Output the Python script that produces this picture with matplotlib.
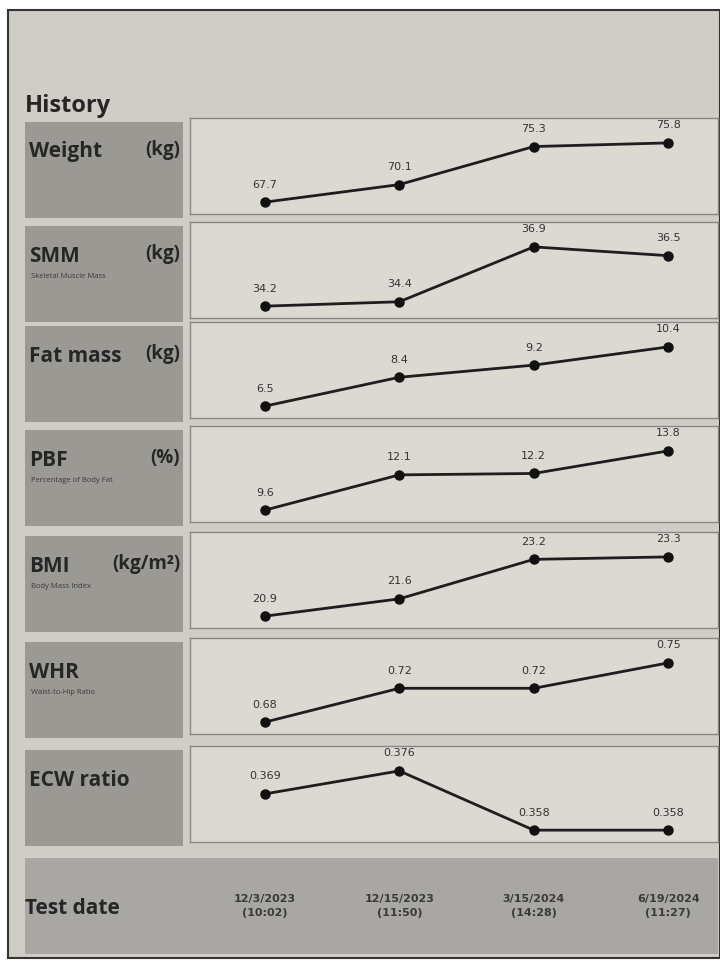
import matplotlib.pyplot as plt
from matplotlib.patches import Rectangle

# history values
dates = ["12/3/2023\n(10:02)", "12/15/2023\n(11:50)", "3/15/2024\n(14:28)", "6/19/2024\n(11:27)"]
weight = [67.7, 70.1, 75.3, 75.8]
smm = [34.2, 34.4, 36.9, 36.5]
fat_mass = [6.5, 8.4, 9.2, 10.4]
pbf = [9.6, 12.1, 12.2, 13.8]
bmi = [20.9, 21.6, 23.2, 23.3]
whr = [0.68, 0.72, 0.72, 0.75]
ecw_ratio = [0.369, 0.376, 0.358, 0.358]

names = ["Weight", "SMM", "Fat mass", "PBF", "BMI", "WHR", "ECW ratio"]
units = ["(kg)", "(kg)", "(kg)", "(%)", "(kg/m²)", "", ""]
subtitles = ["", "Skeletal Muscle Mass", "", "Percentage of Body Fat",
             "Body Mass Index", "Waist-to-Hip Ratio", ""]
formats = ["{:.1f}", "{:.1f}", "{:.1f}", "{:.1f}", "{:.1f}", "{:.2f}", "{:.3f}"]
series = [weight, smm, fat_mass, pbf, bmi, whr, ecw_ratio]

W, H = 720, 961
PAPER = "#d0cdc7"
BOX = "#9b9994"
PANEL = "#dcd9d3"
INK = "#262626"

fig = plt.figure(figsize=(W / 100, H / 100), dpi=100)
fig.patch.set_facecolor("white")

bg = fig.add_axes([0, 0, 1, 1])
bg.set_xlim(0, W)
bg.set_ylim(H, 0)
bg.axis("off")
bg.add_patch(Rectangle((8, 10), W - 8, 948, facecolor=PAPER, edgecolor="#333333", lw=1.5))
bg.text(25, 106, "History", fontsize=17, fontweight="bold", color=INK,
        family="Open Sans", va="center")


def panel_axes(x0, y0, x1, y1):
    return fig.add_axes([x0 / W, 1 - y1 / H, (x1 - x0) / W, (y1 - y0) / H])


row_top = [122, 226, 326, 430, 536, 642, 750]
row_h = 96

for i in range(len(names)):
    top = row_top[i]
    bg.add_patch(Rectangle((25, top), 158, row_h, facecolor=BOX, edgecolor="none"))
    bg.text(29, top + 30, names[i], fontsize=15, fontweight="bold", color=INK,
            family="Open Sans", va="center")
    if units[i]:
        bg.text(180, top + 28, units[i], fontsize=13.5, fontweight="bold", color=INK,
                family="Open Sans", va="center", ha="right")
    if subtitles[i]:
        bg.text(31, top + 51, subtitles[i], fontsize=5.5, color="#3a3a3a",
                family="Open Sans", va="center")

    ax = panel_axes(190, top - 4, 718, top + row_h - 4)
    ax.set_facecolor(PANEL)
    for s in ax.spines.values():
        s.set_color("#8a8884")
        s.set_linewidth(1)
    ax.set_xticks([])
    ax.set_yticks([])

    vals = series[i]
    xs = list(range(len(vals)))
    lo, hi = min(vals), max(vals)
    r = hi - lo
    ax.set_xlim(-0.556, 3.37)
    ax.set_ylim(lo - 0.2 * r, hi + 0.42 * r)
    ax.plot(xs, vals, color="#1e1e1e", lw=2, marker="o", markersize=6.5,
            markerfacecolor="#111111", markeredgecolor="#111111")
    for x, v in zip(xs, vals):
        ax.annotate(formats[i].format(v), (x, v), xytext=(0, 9), textcoords="offset points",
                    ha="center", va="bottom", fontsize=8, color="#333333")

# test date row
bg.add_patch(Rectangle((25, 858), 693, 96, facecolor="#a9a7a3", edgecolor="none"))
bg.text(25, 908, "Test date", fontsize=15, fontweight="bold", color=INK,
        family="Open Sans", va="center")
date_ax = panel_axes(190, 858, 718, 954)
date_ax.set_xlim(-0.556, 3.37)
date_ax.set_ylim(0, 1)
date_ax.axis("off")
for x, d in enumerate(dates):
    date_ax.text(x, 0.5, d, ha="center", va="center", fontsize=8, fontweight="bold",
                 color="#3a3a3a", linespacing=1.4)

fig.savefig("out.png", dpi=100, facecolor=fig.get_facecolor())
